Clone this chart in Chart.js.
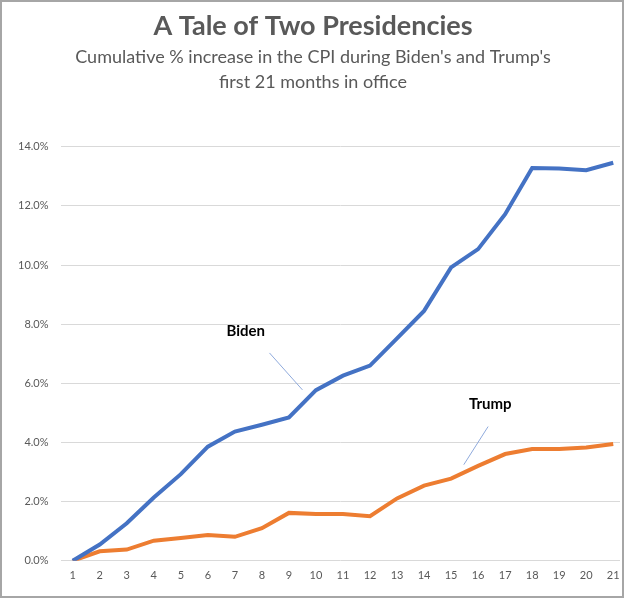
<!DOCTYPE html>
<html>
<head>
<meta charset="utf-8">
<script src="https://cdn.jsdelivr.net/npm/chart.js@4.4.1/dist/chart.umd.min.js"></script>
<style>
  body { margin: 0; background: #fff; }
  #box { position: absolute; left: 0; top: 0; width: 620px; height: 594px; border: 2px solid #a6a6a6; }
  canvas { position: absolute; left: 0; top: 0; }
</style>
</head>
<body>
<div id="box"></div>
<canvas id="chart" width="624" height="598"></canvas>
<script>
// months in office
const months = [1,2,3,4,5,6,7,8,9,10,11,12,13,14,15,16,17,18,19,20,21];
// cumulative % increase in CPI
const biden = [0, 0.55, 1.27, 2.14, 2.93, 3.86, 4.37, 4.6, 4.85, 5.77, 6.26, 6.6, 7.52, 8.45, 9.92, 10.54, 11.72, 13.28, 13.27, 13.21, 13.46];
const trump = [0, 0.32, 0.38, 0.68, 0.77, 0.87, 0.81, 1.1, 1.62, 1.58, 1.58, 1.51, 2.11, 2.54, 2.78, 3.21, 3.61, 3.78, 3.78, 3.83, 3.95];
const yTicks = [0, 2, 4, 6, 8, 10, 12, 14];

const titleText = "A Tale of Two Presidencies";
const subtitleText = ["Cumulative % increase in the CPI during Biden's and Trump's", "first 21 months in office"];

// callout labels, placed in data units
const callouts = [
  { text: "Biden", x: 7.4, y: 7.76, from: [8.28, 7.03], to: [9.5, 5.78] },
  { text: "Trump", x: 16.45, y: 5.31, from: [16.37, 4.54], to: [15.47, 3.25] }
];

const toPoints = (vals) => vals.map((v, i) => ({ x: months[i], y: v }));

const calloutPlugin = {
  id: "callouts",
  afterDatasetsDraw(chart) {
    const ctx = chart.ctx;
    const xs = chart.scales.x, ys = chart.scales.y;
    ctx.save();
    callouts.forEach(c => {
      ctx.strokeStyle = "#8faadc";
      ctx.lineWidth = 1;
      ctx.beginPath();
      ctx.moveTo(xs.getPixelForValue(c.from[0]), ys.getPixelForValue(c.from[1]));
      ctx.lineTo(xs.getPixelForValue(c.to[0]), ys.getPixelForValue(c.to[1]));
      ctx.stroke();
      ctx.fillStyle = "#000";
      ctx.font = "bold 15px Lato";
      ctx.textAlign = "center";
      ctx.textBaseline = "middle";
      ctx.fillText(c.text, xs.getPixelForValue(c.x), ys.getPixelForValue(c.y));
    });
    ctx.restore();
  }
};

new Chart(document.getElementById("chart"), {
  type: "line",
  data: {
    datasets: [
      { label: "Biden", data: toPoints(biden), borderColor: "#4472c4", borderWidth: 4, pointRadius: 0, tension: 0 },
      { label: "Trump", data: toPoints(trump), borderColor: "#ed7d31", borderWidth: 4, pointRadius: 0, tension: 0 }
    ]
  },
  options: {
    responsive: false,
    animation: false,
    layout: { padding: { left: 6, right: 4, top: 10, bottom: 16 } },
    plugins: {
      legend: { display: false },
      tooltip: { enabled: false },
      title: {
        display: true,
        text: titleText,
        color: "#595959",
        font: { family: "Lato", size: 27, weight: "bold" },
        padding: { top: 0, bottom: 2 }
      },
      subtitle: {
        display: true,
        text: subtitleText,
        color: "#595959",
        font: { family: "Lato", size: 18, lineHeight: 1.4 },
        padding: { top: 0, bottom: 52 }
      }
    },
    scales: {
      x: {
        type: "linear",
        min: 0.55,
        max: 21.25,
        afterBuildTicks: (axis) => { axis.ticks = months.map(m => ({ value: m })); },
        grid: { display: false },
        border: { display: false },
        ticks: { color: "#595959", font: { family: "Lato", size: 11 }, padding: 0, maxRotation: 0 }
      },
      y: {
        min: 0,
        max: 14,
        afterBuildTicks: (axis) => { axis.ticks = yTicks.map(v => ({ value: v })); },
        grid: { color: "#d9d9d9", drawTicks: false },
        border: { display: false },
        ticks: {
          color: "#595959",
          font: { family: "Lato", size: 11 },
          padding: 12,
          callback: (v) => v.toFixed(1) + "%"
        }
      }
    }
  },
  plugins: [calloutPlugin]
});
</script>
</body>
</html>
